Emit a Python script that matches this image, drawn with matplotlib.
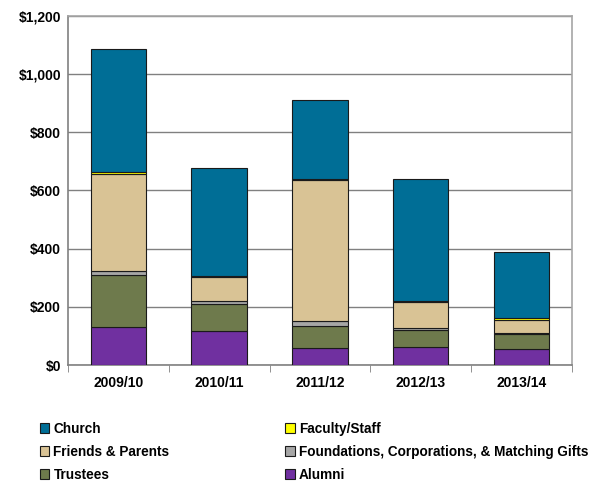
import numpy as np
import matplotlib
matplotlib.use('Agg')
import matplotlib.pyplot as plt
from matplotlib.ticker import FuncFormatter, FixedLocator

years = ['2009/10', '2010/11', '2011/12', '2012/13', '2013/14']
alumni = [131, 117, 58, 62, 55]
trustees = [179, 93, 76, 58, 52]
foundations = [12, 10, 17, 7, 3]
friends = [335, 82, 485, 90, 45]
faculty = [5, 4, 4, 2, 7]
church = [425, 371, 271, 421, 226]

series = [
    ('Alumni', alumni, '#7030a0'),
    ('Trustees', trustees, '#6e7a4c'),
    ('Foundations, Corporations, & Matching Gifts', foundations, '#a6a6a6'),
    ('Friends & Parents', friends, '#d9c395'),
    ('Faculty/Staff', faculty, '#ffff00'),
    ('Church', church, '#006e96'),
]

plt.rcParams['font.family'] = ['Liberation Sans', 'DejaVu Sans']

fig = plt.figure(figsize=(6.13, 4.83), dpi=100)
ax = fig.add_axes([0.111, 0.2443, 0.822, 0.7227])

x = np.arange(len(years))
bottom = np.zeros(len(years))
handles = {}
for name, vals, col in series:
    b = ax.bar(x, vals, 0.55, bottom=bottom, color=col, edgecolor='#1a1a1a',
               linewidth=0.8, zorder=3, label=name)
    handles[name] = b
    bottom += np.array(vals)

ax.set_xlim(-0.5, len(years) - 0.5)
ax.set_ylim(0, 1200)
ax.set_yticks(range(0, 1201, 200))
ax.yaxis.set_major_formatter(FuncFormatter(lambda v, p: f'${v:,.0f}'))
ax.grid(axis='y', color='#808080', linewidth=1.0, zorder=0)
ax.set_xticks(x)
ax.set_xticklabels(years, fontsize=10, fontweight='bold')
ax.tick_params(axis='x', length=0, pad=8)
ax.xaxis.set_minor_locator(FixedLocator(np.arange(-0.5, len(years), 1.0)))
ax.tick_params(axis='x', which='minor', length=5, color='#808080', direction='out')
ax.tick_params(axis='y', labelsize=10, length=0, pad=5)
for lab in ax.get_yticklabels():
    lab.set_fontweight('bold')
for s in ax.spines.values():
    s.set_color('#a6a6a6')
    s.set_linewidth(1.2)
ax.spines['left'].set_color('#808080')
ax.spines['bottom'].set_color('#808080')

order = ['Church', 'Friends & Parents', 'Trustees', 'Faculty/Staff',
         'Foundations, Corporations, & Matching Gifts', 'Alumni']
fig.legend([handles[n] for n in order], order, ncol=2, loc='upper left',
           bbox_to_anchor=(0.045, 0.152), frameon=False, handlelength=0.7,
           handleheight=0.7, handletextpad=0.3, columnspacing=8.5,
           labelspacing=0.65, prop={'weight': 'bold', 'size': 9.8})

fig.savefig('out.png', dpi=100)
